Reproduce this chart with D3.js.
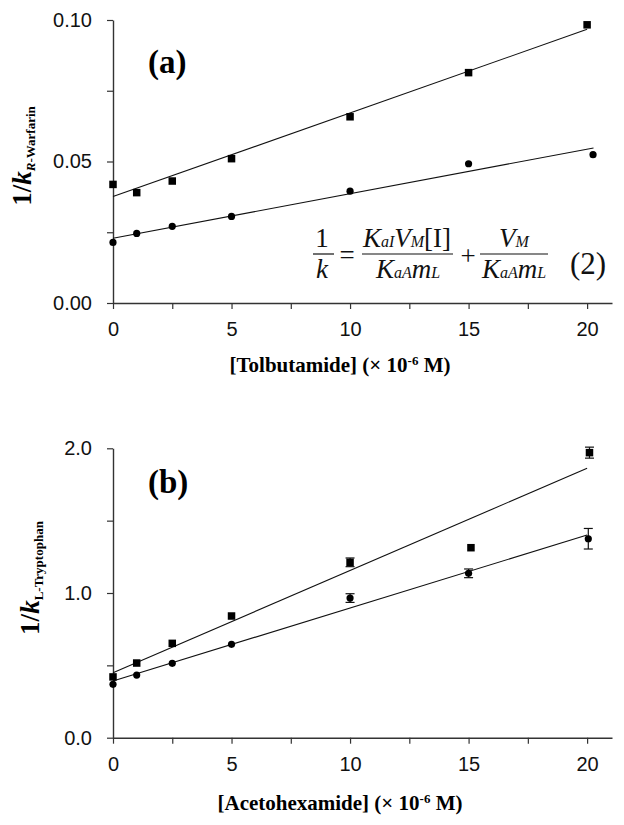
<!DOCTYPE html>
<html><head><meta charset="utf-8">
<script src="https://cdn.jsdelivr.net/npm/d3@7"></script>
<style>
body{margin:0;background:#fff;}
svg{display:block;}
</style></head>
<body>
<svg id="chart" width="624" height="825"></svg>
<script>
// ---------- DATA ----------
// Panel (a): Tolbutamide vs 1/k R-Warfarin
const aSquareX   = [0, 1, 2.5, 5, 10, 15, 20];
const aSquareY   = [0.0419, 0.0390, 0.0431, 0.0510, 0.0658, 0.0814, 0.0983];
const aCircleX   = [0, 1, 2.5, 5, 10, 15, 20.25];
const aCircleY   = [0.0214, 0.0246, 0.0271, 0.0306, 0.0395, 0.0492, 0.0524];
const aSquareFit = [[0, 0.0376], [20, 0.0967]];
const aCircleFit = [[0, 0.0229], [20.27, 0.0548]];
const aYTicks    = [0, 0.025, 0.05, 0.075, 0.10];
const aYLabels   = ["0.00", "", "0.05", "", "0.10"];

// Panel (b): Acetohexamide vs 1/k L-Tryptophan
const bSquareX   = [0, 1, 2.5, 5, 10, 15.1, 20.1];
const bSquareY   = [0.420, 0.516, 0.652, 0.841, 1.212, 1.313, 1.970];
const bSquareErr = [0, 0, 0, 0, 0.030, 0, 0.038];
const bCircleX   = [0, 1, 2.5, 5, 10, 15, 20.05];
const bCircleY   = [0.369, 0.433, 0.514, 0.645, 0.965, 1.136, 1.375];
const bCircleErr = [0, 0, 0, 0, 0.030, 0.030, 0.071];
const bSquareFit = [[0, 0.449], [20, 1.862]];
const bCircleFit = [[0, 0.392], [20, 1.401]];
const bYTicks    = [0, 0.5, 1.0, 1.5, 2.0];
const bYLabels   = ["0.0", "", "1.0", "", "2.0"];

const xTicks  = [0, 2.5, 5, 7.5, 10, 12.5, 15, 17.5, 20];
const xLabels = ["0", "", "5", "", "10", "", "15", "", "20"];
const xMax = 21.05;

// ---------- DRAW ----------
const svg = d3.select("#chart");
const serif = "'Liberation Serif','Times New Roman',Times,serif";
const sans  = "'Liberation Sans',Arial,Helvetica,sans-serif";
const axisColor = "#333";

function panel(cfg){
  const x = d3.scaleLinear().domain([0, xMax]).range([113, 612]);
  const y = d3.scaleLinear().domain([0, cfg.yMax]).range([cfg.y0, cfg.yTop]);
  const g = svg.append("g");

  const xAxis = d3.axisBottom(x).tickValues(xTicks)
      .tickFormat((d,i)=>xLabels[i]).tickSizeInner(6).tickSizeOuter(0).tickPadding(13);
  const yAxis = d3.axisLeft(y).tickValues(cfg.yTicks)
      .tickFormat((d,i)=>cfg.yLabels[i]).tickSizeInner(6).tickSizeOuter(0).tickPadding(15);

  const gx = g.append("g").attr("transform", `translate(0,${cfg.y0})`).call(xAxis);
  const gy = g.append("g").attr("transform", `translate(113,0)`).call(yAxis);
  [gx, gy].forEach(a=>{
    a.select(".domain").attr("stroke", axisColor).attr("stroke-width", 1.4);
    a.selectAll(".tick line").attr("stroke", axisColor).attr("stroke-width", 1.2);
    a.selectAll(".tick text").attr("fill", "#111").style("font-family", sans).style("font-size", "20px");
  });

  const line = d3.line().x(d=>x(d[0])).y(d=>y(d[1]));
  [cfg.sqFit, cfg.ciFit].forEach(f=>{
    g.append("path").attr("d", line(f)).attr("fill","none").attr("stroke","#111").attr("stroke-width",1.1);
  });

  // error bars
  function errBars(xs, ys, es){
    xs.forEach((xv,i)=>{
      const e = es ? es[i] : 0;
      if(!e) return;
      const cx = x(xv);
      g.append("line").attr("x1",cx).attr("x2",cx).attr("y1",y(ys[i]-e)).attr("y2",y(ys[i]+e)).attr("stroke","#111").attr("stroke-width",1.2);
      [ys[i]-e, ys[i]+e].forEach(v=>{
        g.append("line").attr("x1",cx-4.5).attr("x2",cx+4.5).attr("y1",y(v)).attr("y2",y(v)).attr("stroke","#111").attr("stroke-width",1.2);
      });
    });
  }
  errBars(cfg.sqX, cfg.sqY, cfg.sqErr);
  errBars(cfg.ciX, cfg.ciY, cfg.ciErr);

  const sq = 7.5;
  g.selectAll(".sq").data(cfg.sqX).enter().append("rect")
    .attr("x", d=>x(d)-sq/2).attr("y",(d,i)=>y(cfg.sqY[i])-sq/2)
    .attr("width",sq).attr("height",sq).attr("fill","#000");
  g.selectAll(".ci").data(cfg.ciX).enter().append("circle")
    .attr("cx", d=>x(d)).attr("cy",(d,i)=>y(cfg.ciY[i])).attr("r",3.6).attr("fill","#000");

  // panel letter
  g.append("text").attr("x",148).attr("y",cfg.letterY).text(cfg.letter)
    .style("font-family",serif).style("font-weight","bold").style("font-size","33px");

  // x title
  const xt = g.append("text").attr("x",340).attr("y",cfg.xTitleY).attr("text-anchor","middle")
    .style("font-family",serif).style("font-weight","bold").style("font-size","21px");
  xt.append("tspan").text(cfg.xTitle + " (× 10");
  xt.append("tspan").attr("dy",-7).style("font-size","13px").text("-6");
  xt.append("tspan").attr("dy",7).text(" M)");

  // y title
  const yt = g.append("text").attr("transform",`translate(${cfg.yTitleX},${cfg.yTitleCY}) rotate(-90)`)
    .attr("text-anchor","middle").style("font-family",serif).style("font-weight","bold").style("font-size","27px");
  yt.append("tspan").text("1/");
  yt.append("tspan").style("font-style","italic").text("k");
  const sub = cfg.ySub;
  sub.forEach((s,i)=>{
    const t = yt.append("tspan").style("font-size","13px").text(s.t);
    if(i===0) t.attr("dy", 4);
    if(s.it) t.style("font-style","italic");
  });
  return {x, y, g};
}

panel({
  yMax:0.10, y0:303, yTop:20, yTicks:aYTicks, yLabels:aYLabels,
  sqX:aSquareX, sqY:aSquareY, ciX:aCircleX, ciY:aCircleY,
  sqFit:aSquareFit, ciFit:aCircleFit,
  letter:"(a)", letterY:73, xTitle:"[Tolbutamide]", xTitleY:372,
  yTitleX:31, yTitleCY:156, ySub:[{t:"R",it:true},{t:"-Warfarin"}]
});
panel({
  yMax:2.0, y0:737.7, yTop:448.3, yTicks:bYTicks, yLabels:bYLabels,
  sqX:bSquareX, sqY:bSquareY, sqErr:bSquareErr, ciX:bCircleX, ciY:bCircleY, ciErr:bCircleErr,
  sqFit:bSquareFit, ciFit:bCircleFit,
  letter:"(b)", letterY:493, xTitle:"[Acetohexamide]", xTitleY:810,
  yTitleX:39, yTitleCY:578, ySub:[{t:"L-Tryptophan"}]
});

// ---------- equation ----------
const eq = svg.append("g").style("font-family",serif).attr("fill","#111");
function piece(x, y, parts, size){
  const t = eq.append("text").attr("x",x).attr("y",y).attr("text-anchor","middle");
  parts.forEach(p=>{
    t.append("tspan").text(p.t).style("font-size",(p.s||size||27)+"px")
     .style("font-style", p.r ? "normal" : "italic");
  });
}
function bar(x1,x2){ eq.append("line").attr("x1",x1).attr("x2",x2).attr("y1",254).attr("y2",254).attr("stroke","#111").attr("stroke-width",1.2); }
piece(322,247,[{t:"1",r:true}]);
piece(322,278,[{t:"k"}]);
bar(313,334);
piece(347,264,[{t:"=",r:true}]);
piece(407,247,[{t:"K"},{t:"aI",s:16},{t:"V"},{t:"M",s:16},{t:"[I]",r:true}]);
piece(408,278,[{t:"K"},{t:"aA",s:16},{t:"m"},{t:"L",s:16}]);
bar(362,453);
piece(468,265,[{t:"+",r:true}]);
piece(514,247,[{t:"V"},{t:"M",s:16}]);
piece(514,278,[{t:"K"},{t:"aA",s:16},{t:"m"},{t:"L",s:16}]);
bar(480,548);
piece(588,274,[{t:"(2)",r:true}], 31);
</script>
</body></html>
